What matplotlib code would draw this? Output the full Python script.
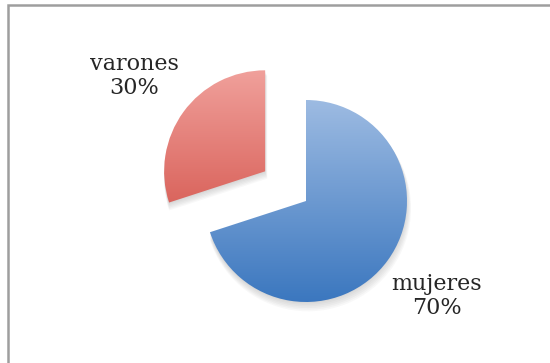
import numpy as np
import matplotlib
matplotlib.use("Agg")
import matplotlib.pyplot as plt
from matplotlib.colors import LinearSegmentedColormap
from matplotlib.patches import Rectangle, Wedge

# Distribución por sexo
categorias = ["mujeres", "varones"]
porcentajes = [70, 30]
separacion = [0.0, 0.5]
colores_claros = ["#9dbbe2", "#f0a09b"]
colores_oscuros = ["#3b77bf", "#cf463d"]

fig = plt.figure(figsize=(5.5, 3.63), dpi=100)
ax = fig.add_axes([0, 0, 1, 1])

# 1 unidad = 101 px, centro del pastel en (306, 201) px
esc = 101.0
xlim = (-306 / esc, (550 - 306) / esc)
ylim = (-(363 - 201) / esc, 201 / esc)

etiquetas = [f"{c}\n{p}%" for c, p in zip(categorias, porcentajes)]
wedges, textos = ax.pie(porcentajes, labels=etiquetas, startangle=90,
                        counterclock=False, explode=separacion,
                        labeldistance=1.6, radius=1.0,
                        wedgeprops=dict(facecolor="none", edgecolor="none"),
                        textprops=dict(fontsize=16, family="DejaVu Serif",
                                       color="#262626", linespacing=1.1))

for t in textos:
    t.set_horizontalalignment("center")
    t.set_verticalalignment("center")
    t.set_multialignment("center")

# sombra suave bajo cada porción
for w in wedges:
    cx, cy = w.center
    for k in range(6):
        d = 0.012 * (k + 1)
        sombra = Wedge((cx + 0.004 * k, cy - d), w.r + 0.004 * k, w.theta1, w.theta2,
                       facecolor="#7a7a7a", edgecolor="none", alpha=0.05, zorder=0.5)
        ax.add_patch(sombra)

# relleno degradado vertical recortado a cada porción
for w, c1, c2 in zip(wedges, colores_claros, colores_oscuros):
    cx, cy = w.center
    r = w.r
    cmap = LinearSegmentedColormap.from_list("g", [c2, c1])
    grad = np.linspace(0, 1, 256).reshape(-1, 1)
    im = ax.imshow(grad, cmap=cmap, origin="lower", aspect="auto",
                   extent=(cx - r, cx + r, cy - r, cy + r), zorder=1,
                   interpolation="bilinear")
    im.set_clip_path(w)

ax.set_xlim(*xlim)
ax.set_ylim(*ylim)
ax.axis("off")

# marco gris del gráfico
fig.patches.append(Rectangle((8 / 550, -0.05), 1.2, 1 - 5 / 363 + 0.05,
                             transform=fig.transFigure, fill=False,
                             edgecolor="#9e9e9e", linewidth=1.8))

fig.savefig("out.png", dpi=100)
